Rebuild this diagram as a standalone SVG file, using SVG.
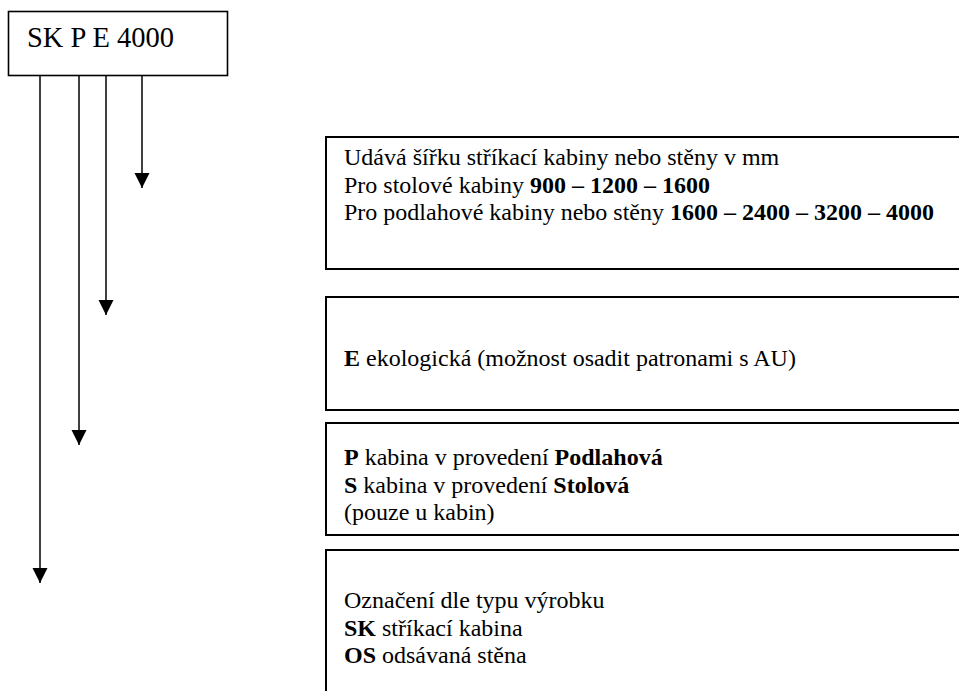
<svg xmlns="http://www.w3.org/2000/svg" width="959" height="691" viewBox="0 0 959 691">
<style>
text{font-family:"Liberation Serif","Times New Roman",serif;fill:#000}
.t{font-size:24px}
.b{font-weight:bold}
.box{fill:#fff;stroke:#000;stroke-width:2}
.tbox{fill:#fff;stroke:#000;stroke-width:1.6}
.ln{stroke:#000;stroke-width:1.5;fill:none}
</style>
<defs>
<marker id="ah" markerUnits="userSpaceOnUse" markerWidth="16" markerHeight="16" viewBox="0 0 16 16" refX="15" refY="7.5" orient="auto">
<path d="M0,0 L15,7.5 L0,15 Z" fill="#000"/>
</marker>
</defs>
<rect width="959" height="691" fill="#fff"/>
<g id="code">
<rect class="tbox" x="8.5" y="11.5" width="219" height="64"/>
<text x="27" y="47" style="font-size:28.5px">SK P E 4000</text>
</g>
<g id="connectors">
<line class="ln" x1="142" y1="76" x2="142" y2="188" marker-end="url(#ah)"/>
<line class="ln" x1="106" y1="76" x2="106" y2="315" marker-end="url(#ah)"/>
<line class="ln" x1="79" y1="76" x2="79" y2="445" marker-end="url(#ah)"/>
<line class="ln" x1="40" y1="76" x2="40" y2="583" marker-end="url(#ah)"/>
</g>
<g id="width">
<rect class="box" x="326" y="137" width="640" height="132"/>
<text class="t" x="344" y="165">Udává šířku stříkací kabiny nebo stěny v mm</text>
<text class="t" x="344" y="192.5">Pro stolové kabiny <tspan class="b">900 – 1200 – 1600</tspan></text>
<text class="t" x="344" y="220">Pro podlahové kabiny nebo stěny <tspan class="b">1600 – 2400 – 3200 – 4000</tspan></text>
</g>
<g id="eco">
<rect class="box" x="326" y="297" width="640" height="113"/>
<text class="t" x="344" y="366"><tspan class="b">E</tspan> ekologická (možnost osadit patronami s AU)</text>
</g>
<g id="type">
<rect class="box" x="326" y="423" width="640" height="112"/>
<text class="t" x="344" y="465"><tspan class="b">P</tspan> kabina v provedení <tspan class="b">Podlahová</tspan></text>
<text class="t" x="344" y="492.5"><tspan class="b">S</tspan> kabina v provedení <tspan class="b">Stolová</tspan></text>
<text class="t" x="344" y="520">(pouze u kabin)</text>
</g>
<g id="product">
<rect class="box" x="326" y="550" width="640" height="160"/>
<text class="t" x="344" y="608">Označení dle typu výrobku</text>
<text class="t" x="344" y="635.5"><tspan class="b">SK</tspan> stříkací kabina</text>
<text class="t" x="344" y="663"><tspan class="b">OS</tspan> odsávaná stěna</text>
</g>
</svg>
